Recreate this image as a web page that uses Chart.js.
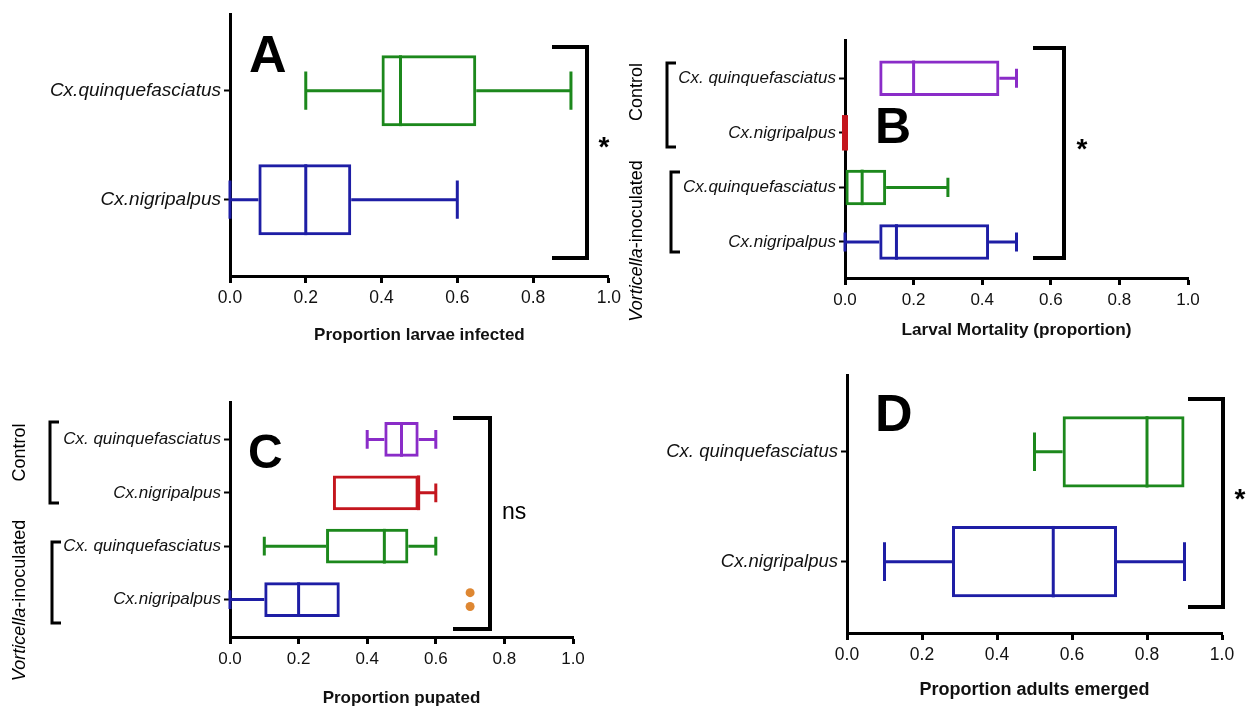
<!DOCTYPE html>
<html>
<head>
<meta charset="utf-8">
<title>Vorticella box plots</title>
<script src="https://cdn.jsdelivr.net/npm/chart.js@4.4.1/dist/chart.umd.min.js"></script>
<style>
  body { margin: 0; background: #fff; }
  #wrap { position: relative; width: 1252px; height: 707px; overflow: hidden; }
  .panel { position: absolute; }
</style>
</head>
<body>
<div id="wrap">
  <div class="panel" style="left:0;top:0;width:626px;height:353px"><canvas id="chartA"></canvas></div>
  <div class="panel" style="left:626px;top:0;width:626px;height:353px"><canvas id="chartB"></canvas></div>
  <div class="panel" style="left:0;top:353px;width:626px;height:354px"><canvas id="chartC"></canvas></div>
  <div class="panel" style="left:626px;top:353px;width:626px;height:354px"><canvas id="chartD"></canvas></div>
</div>
<script>
// A - proportion larvae infected
const catsA = ['Cx.quinquefasciatus', 'Cx.nigripalpus'];
const minA = [0.2, 0.0];
const q1A  = [0.4, 0.075];
const medA = [0.45, 0.2];
const q3A  = [0.65, 0.32];
const maxA = [0.9, 0.6];

// B - larval mortality (control x2, vorticella x2)
const catsB = ['Cx. quinquefasciatus', 'Cx.nigripalpus', 'Cx.quinquefasciatus', 'Cx.nigripalpus'];
const minB = [0.1, 0, 0, 0];
const q1B  = [0.1, 0, 0, 0.1];
const medB = [0.2, 0, 0.05, 0.15];
const q3B  = [0.45, 0, 0.12, 0.42];
const maxB = [0.5, 0, 0.3, 0.5];

// C - proportion pupated
const catsC = ['Cx. quinquefasciatus', 'Cx.nigripalpus', 'Cx. quinquefasciatus', 'Cx.nigripalpus'];
const minC = [0.4, 0.3, 0.1, 0];
const q1C  = [0.45, 0.3, 0.28, 0.1];
const medC = [0.5, 0.55, 0.45, 0.2];
const q3C  = [0.55, 0.55, 0.52, 0.32];
const maxC = [0.6, 0.6, 0.6, 0.32];
const outC = [[], [], [], [0.7, 0.7]];

// D - proportion adults emerged
const catsD = ['Cx. quinquefasciatus', 'Cx.nigripalpus'];
const minD = [0.5, 0.1];
const q1D  = [0.575, 0.28];
const medD = [0.8, 0.55];
const q3D  = [0.9, 0.72];
const maxD = [0.9, 0.9];

const xTicks = [0, 0.2, 0.4, 0.6, 0.8, 1.0];

const GREEN = 'rgb(28,136,28)';
const BLUE = 'rgb(30,30,165)';
const PURPLE = 'rgb(138,44,200)';
const RED = 'rgb(196,22,30)';
const ORANGE = 'rgb(222,135,50)';

const SANS = '"Liberation Sans", Arial, sans-serif';

// whiskers + median lines on top of the floating bars
const whiskerPlugin = {
  id: 'whiskers',
  afterDatasetsDraw(chart) {
    const ctx = chart.ctx;
    const xs = chart.scales.x;
    chart.data.datasets.forEach((ds, di) => {
      if (!ds.stats) return;
      const st = ds.stats;
      chart.getDatasetMeta(di).data.forEach((bar, i) => {
        const { y, height } = bar.getProps(['y', 'height'], true);
        const px = v => xs.getPixelForValue(v);
        const cap = height * 0.27;
        ctx.save();
        ctx.strokeStyle = ds.borderColor[i];
        ctx.lineWidth = 3;
        ctx.lineCap = 'butt';
        ctx.beginPath();
        if (st.min[i] < st.q1[i]) {
          ctx.moveTo(px(st.min[i]), y); ctx.lineTo(px(st.q1[i]), y);
          ctx.moveTo(px(st.min[i]), y - cap); ctx.lineTo(px(st.min[i]), y + cap);
        }
        if (st.max[i] > st.q3[i]) {
          ctx.moveTo(px(st.q3[i]), y); ctx.lineTo(px(st.max[i]), y);
          ctx.moveTo(px(st.max[i]), y - cap); ctx.lineTo(px(st.max[i]), y + cap);
        }
        ctx.stroke();
        ctx.lineWidth = st.q1[i] === st.q3[i] ? 6 : 3;
        ctx.beginPath();
        ctx.moveTo(px(st.med[i]), y - height / 2);
        ctx.lineTo(px(st.med[i]), y + height / 2);
        ctx.stroke();
        ctx.restore();
      });
    });
  }
};

// panel letter, significance bracket, group labels
const extrasPlugin = {
  id: 'extras',
  afterDraw(chart, args, o) {
    const ctx = chart.ctx;
    ctx.save();
    ctx.fillStyle = '#000';
    ctx.strokeStyle = '#000';
    ctx.textAlign = 'left';
    ctx.textBaseline = 'alphabetic';
    ctx.font = 'bold ' + o.letter.size + 'px ' + SANS;
    ctx.fillText(o.letter.text, o.letter.x, o.letter.y);

    const b = o.bracket;
    ctx.lineWidth = 4;
    ctx.beginPath();
    ctx.moveTo(b.arm, b.top); ctx.lineTo(b.x, b.top);
    ctx.lineTo(b.x, b.bottom); ctx.lineTo(b.arm, b.bottom);
    ctx.stroke();
    if (b.mark === '*') {
      ctx.font = 'bold 28px ' + SANS;
      ctx.textAlign = 'center';
      ctx.fillText('*', b.markX, b.markY + 16);
    } else {
      ctx.font = '23px ' + SANS;
      ctx.textAlign = 'left';
      ctx.textBaseline = 'middle';
      ctx.fillText(b.mark, b.markX, b.markY);
    }

    (o.groups || []).forEach(g => {
      ctx.lineWidth = 3;
      ctx.beginPath();
      ctx.moveTo(g.x + 9, g.top); ctx.lineTo(g.x, g.top);
      ctx.lineTo(g.x, g.bottom); ctx.lineTo(g.x + 9, g.bottom);
      ctx.stroke();
      ctx.save();
      ctx.translate(g.labelX, (g.top + g.bottom) / 2 + (g.shift || 0));
      ctx.rotate(-Math.PI / 2);
      ctx.textBaseline = 'middle';
      ctx.textAlign = 'left';
      const parts = g.parts;
      let total = 0;
      parts.forEach(p => { ctx.font = p.style + ' 18px ' + SANS; total += ctx.measureText(p.text).width; });
      let cx = -total / 2;
      parts.forEach(p => {
        ctx.font = p.style + ' 18px ' + SANS;
        ctx.fillText(p.text, cx, 0);
        cx += ctx.measureText(p.text).width;
      });
      ctx.restore();
    });
    ctx.restore();
  }
};

function boxChart(id, p) {
  const el = document.getElementById(id);
  const W = el.parentNode.clientWidth;
  const H = el.parentNode.clientHeight;
  const a = p.area; // left, top, right, bottom inside the panel

  const datasets = [{
    type: 'bar',
    data: p.q1.map((v, i) => ({ y: i, x: [v, p.q3[i]] })),
    backgroundColor: 'rgba(255,255,255,0)',
    borderColor: p.colors,
    borderWidth: 3,
    borderSkipped: false,
    categoryPercentage: 1,
    barPercentage: 0.65,
    stats: { min: p.min, q1: p.q1, med: p.med, q3: p.q3, max: p.max }
  }];
  if (p.outliers) {
    const pts = [];
    p.outliers.forEach((vals, i) => vals.forEach((v, k) => {
      pts.push({ x: v, y: i + (k - (vals.length - 1) / 2) * 0.26 });
    }));
    datasets.push({
      type: 'scatter',
      data: pts,
      pointRadius: 4.5,
      pointBackgroundColor: ORANGE,
      pointBorderColor: ORANGE,
      pointBorderWidth: 0
    });
  }

  return new Chart(el, {
    type: 'bar',
    data: { datasets: datasets },
    plugins: [whiskerPlugin, extrasPlugin],
    options: {
      indexAxis: 'y',
      responsive: true,
      maintainAspectRatio: false,
      animation: false,
      layout: { padding: { left: 0, top: a[1], right: W - a[2], bottom: 0 } },
      plugins: {
        legend: { display: false },
        tooltip: { enabled: false },
        extras: p.extras
      },
      scales: {
        y: {
          type: 'linear',
          reverse: true,
          offset: false,
          min: -0.7,
          max: p.yMax,
          afterBuildTicks: s => { s.ticks = p.cats.map((c, i) => ({ value: i })); },
          afterFit: s => { s.width = a[0]; },
          ticks: {
            autoSkip: false,
            padding: 3,
            color: '#111',
            font: { family: SANS, style: 'italic', size: p.catSize },
            callback: v => p.cats[v]
          },
          grid: { drawOnChartArea: false, offset: false, tickLength: 6, tickWidth: 2, color: '#000' },
          border: { color: '#000', width: 3 }
        },
        x: {
          type: 'linear',
          min: 0,
          max: 1,
          afterBuildTicks: s => { s.ticks = xTicks.map(v => ({ value: v })); },
          afterFit: s => { s.height = H - a[3]; },
          ticks: {
            padding: 5,
            color: '#111',
            font: { family: SANS, size: p.tickSize },
            callback: v => v.toFixed(1)
          },
          grid: { drawOnChartArea: false, tickLength: 7, tickWidth: 3, color: '#000' },
          border: { color: '#000', width: 3 },
          title: {
            display: true,
            text: p.title,
            color: '#111',
            font: { family: SANS, weight: 'bold', size: p.titleSize },
            padding: { top: 0, bottom: H - p.titleY - p.titleSize * 0.6 }
          }
        }
      }
    }
  });
}

const chartA = boxChart('chartA', {
  cats: catsA, min: minA, q1: q1A, med: medA, q3: q3A, max: maxA,
  colors: [GREEN, BLUE],
  area: [230, 13, 613, 276], yMax: 1.7,
  catSize: 19, tickSize: 17.5, title: 'Proportion larvae infected', titleSize: 17, titleY: 335,
  extras: {
    letter: { text: 'A', x: 249, y: 72, size: 52 },
    bracket: { x: 587, arm: 552, top: 47, bottom: 258, mark: '*', markX: 604, markY: 140 }
  }
});

const chartB = boxChart('chartB', {
  cats: catsB, min: minB, q1: q1B, med: medB, q3: q3B, max: maxB,
  colors: [PURPLE, RED, GREEN, BLUE],
  area: [219, 40, 562, 278], yMax: 3.66,
  catSize: 17, tickSize: 17, title: 'Larval Mortality (proportion)', titleSize: 17.2, titleY: 330,
  extras: {
    letter: { text: 'B', x: 249, y: 143, size: 50 },
    bracket: { x: 438, arm: 407, top: 48, bottom: 258, mark: '*', markX: 456, markY: 142 },
    groups: [
      { x: 41, top: 63, bottom: 147, labelX: 11, shift: -13,
        parts: [{ text: 'Control', style: 'normal' }] },
      { x: 45, top: 172, bottom: 252, labelX: 11, shift: 29,
        parts: [{ text: 'Vorticella', style: 'italic' }, { text: '-inoculated', style: 'normal' }] }
    ]
  }
});

const chartC = boxChart('chartC', {
  cats: catsC, min: minC, q1: q1C, med: medC, q3: q3C, max: maxC, outliers: outC,
  colors: [PURPLE, RED, GREEN, BLUE],
  area: [230, 49, 573, 284], yMax: 3.7,
  catSize: 17, tickSize: 17, title: 'Proportion pupated', titleSize: 17, titleY: 345,
  extras: {
    letter: { text: 'C', x: 248, y: 115, size: 48 },
    bracket: { x: 490, arm: 453, top: 65, bottom: 276, mark: 'ns', markX: 502, markY: 160 },
    groups: [
      { x: 50, top: 69, bottom: 150, labelX: 20, shift: -10,
        parts: [{ text: 'Control', style: 'normal' }] },
      { x: 52, top: 189, bottom: 270, labelX: 20, shift: 18,
        parts: [{ text: 'Vorticella', style: 'italic' }, { text: '-inoculated', style: 'normal' }] }
    ]
  }
});

const chartD = boxChart('chartD', {
  cats: catsD, min: minD, q1: q1D, med: medD, q3: q3D, max: maxD,
  colors: [GREEN, BLUE],
  area: [221, 22, 596, 280], yMax: 1.65,
  catSize: 18.5, tickSize: 17.5, title: 'Proportion adults emerged', titleSize: 18, titleY: 337,
  extras: {
    letter: { text: 'D', x: 249, y: 78, size: 52 },
    bracket: { x: 597, arm: 562, top: 46, bottom: 254, mark: '*', markX: 614, markY: 139 }
  }
});
</script>
</body>
</html>
